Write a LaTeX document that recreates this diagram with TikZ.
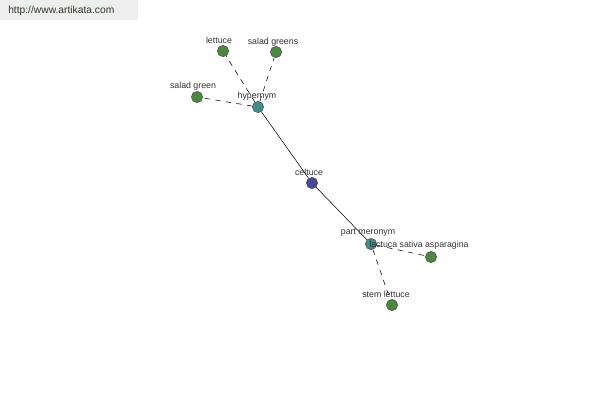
\documentclass[tikz,border=0pt]{standalone}
\usepackage{fontspec}
\setmainfont{Liberation Sans}
\begin{document}
\begin{tikzpicture}[x=0.75pt,y=-0.75pt,
  dot/.style={circle,draw=black!70,line width=0.4pt,minimum size=8.5pt,inner sep=0pt},
  gdot/.style={dot,fill={rgb,255:red,74;green,138;blue,62}},
  tdot/.style={dot,fill={rgb,255:red,61;green,143;blue,138}},
  bdot/.style={dot,fill={rgb,255:red,72;green,72;blue,160}},
  lbl/.style={font=\fontsize{6.6}{7.5}\selectfont,text=black!80,inner sep=0pt},
  rel/.style={line width=0.4pt,black},
  sub/.style={line width=0.4pt,black,dash pattern=on 4pt off 4pt}]
\useasboundingbox (0,0) rectangle (600,400);
\fill[white] (0,0) rectangle (600,400);
\node[fill={rgb,255:red,238;green,238;blue,238},minimum width=103.5pt,minimum height=15pt,inner sep=0pt,anchor=north west] (hdr) at (0,0) {};
\node[font=\fontsize{7.7}{9}\selectfont,text={rgb,255:red,45;green,55;blue,40},anchor=west,inner sep=0pt] (url) at (8,11) {http://www.artikata.com};
% nodes
\node[tdot] (hyp) at (258,107) {};
\node[gdot] (let) at (223,51) {};
\node[gdot] (sgs) at (276,52) {};
\node[gdot] (sg) at (197,97) {};
\node[bdot] (cel) at (312,183) {};
\node[tdot] (pm) at (371,244) {};
\node[gdot] (lsa) at (431,257) {};
\node[gdot] (stl) at (392,305) {};
% edges
\draw[rel] (hyp) -- (cel);
\draw[rel] (cel) -- (pm);
\draw[sub] (hyp) -- (let);
\draw[sub] (hyp) -- (sgs);
\draw[sub] (hyp) -- (sg);
\draw[sub] (pm) -- (lsa);
\draw[sub] (pm) -- (stl);
% labels
\node[lbl] (lhyp) at (257,96) {hypernym};
\node[lbl] (llet) at (219,40) {lettuce};
\node[lbl] (lsgs) at (273,42) {salad greens};
\node[lbl] (lsg) at (193,86) {salad green};
\node[lbl] (lcel) at (309,172) {celtuce};
\node[lbl] (lpm) at (368,233) {part meronym};
\node[lbl] (llsa) at (419,245) {lactuca sativa asparagina};
\node[lbl] (lstl) at (386,294) {stem lettuce};
\end{tikzpicture}
\end{document}
